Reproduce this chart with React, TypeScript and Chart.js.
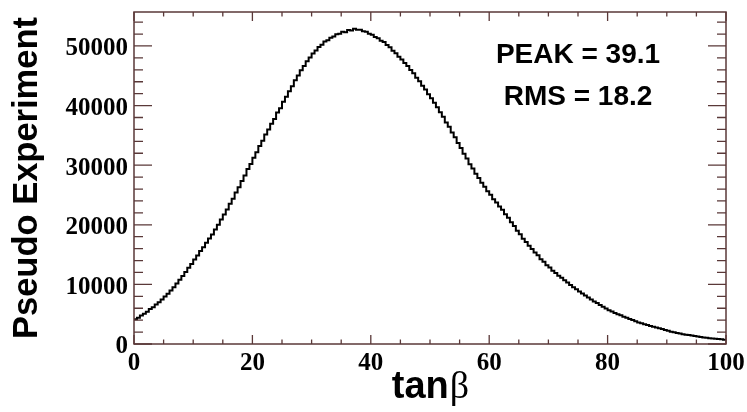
import React, { useEffect, useRef } from 'react';
import { Chart, registerables } from 'chart.js';

Chart.register(...registerables);

// Histogram binning of tanβ (0 … 100 in 0.5 wide bins)
const BIN_LOW = 0;
const BIN_WIDTH = 0.5;

// Pseudo-experiment counts per bin
const counts = [
  4150, 4420, 4780, 5090, 5430, 5880, 6180, 6620, 7010, 7480,
  7960, 8430, 8990, 9520, 10150, 10760, 11420, 12080, 12790, 13420,
  14180, 14830, 15590, 16220, 16980, 17690, 18380, 19230, 20010, 20870,
  21720, 22580, 23520, 24380, 25420, 26290, 27330, 28260, 29340, 30180,
  31240, 32180, 33210, 34090, 35130, 35980, 36940, 37760, 38820, 39570,
  40630, 41480, 42420, 43260, 44250, 45060, 45940, 46650, 47430, 48080,
  48720, 49230, 49840, 50210, 50740, 50960, 51390, 51580, 51960, 52040,
  52380, 52310, 52680, 52590, 52880, 52720, 52710, 52460, 52380, 52060,
  51900, 51490, 51300, 50870, 50660, 50160, 49780, 49200, 48800, 48190,
  47750, 47130, 46640, 45950, 45420, 44680, 44090, 43310, 42700, 41920,
  41240, 40460, 39740, 38860, 38130, 37180, 36440, 35470, 34690, 33720,
  32890, 31920, 31140, 30170, 29430, 28570, 27840, 27060, 26380, 25620,
  25030, 24270, 23740, 23060, 22530, 21760, 21180, 20420, 19780, 19020,
  18430, 17670, 17130, 16470, 15920, 15370, 14870, 14220, 13780, 13220,
  12820, 12280, 11920, 11470, 11120, 10680, 10320, 9880, 9520, 9180,
  8820, 8480, 8120, 7790, 7460, 7140, 6860, 6540, 6260, 5940,
  5660, 5440, 5210, 4990, 4810, 4590, 4410, 4190, 4010, 3800,
  3610, 3490, 3310, 3190, 3010, 2890, 2760, 2640, 2510, 2340,
  2210, 2040, 1960, 1840, 1760, 1640, 1560, 1490, 1410, 1340,
  1260, 1190, 1110, 1040, 980, 930, 880, 820, 780, 720,
];

const X_MIN = 0;
const X_MAX = 100;
const Y_MIN = 0;
const Y_MAX = 55700;

const xTickValues = [0, 20, 40, 60, 80, 100];
const xMinorStep = 5;
const yTickValues = [0, 10000, 20000, 30000, 40000, 50000];
const yMinorStep = 2000;

const yTitle = 'Pseudo Experiment';
const xTitleMain = 'tan';
const xTitleSymbol = 'β';
const statLines = ['PEAK = 39.1', 'RMS = 18.2'];

const FRAME_COLOR = '#5a3838';
const LABEL_FONT = { family: "'Liberation Serif', 'Times New Roman', serif", weight: 'bold' as const, size: 25 };

// Frame with inward ticks on all four sides, ROOT style
const framePlugin = {
  id: 'rootFrame',
  afterDatasetsDraw(chart: any) {
    const { ctx, chartArea } = chart;
    const { left, right, top, bottom } = chartArea;
    const xs = chart.scales.x;
    const ys = chart.scales.y;
    ctx.save();
    ctx.strokeStyle = FRAME_COLOR;
    ctx.lineWidth = 1.5;
    ctx.strokeRect(left, top, right - left, bottom - top);

    ctx.lineWidth = 1.3;
    ctx.beginPath();
    for (let v = X_MIN; v <= X_MAX + 1e-9; v += xMinorStep) {
      const px = xs.getPixelForValue(v);
      const major = xTickValues.includes(v);
      const len = major ? 9 : 4.5;
      ctx.moveTo(px, bottom);
      ctx.lineTo(px, bottom - len);
      ctx.moveTo(px, top);
      ctx.lineTo(px, top + len);
    }
    for (let v = Y_MIN; v <= Y_MAX; v += yMinorStep) {
      const py = ys.getPixelForValue(v);
      const major = yTickValues.includes(v);
      const len = major ? 18 : 9;
      ctx.moveTo(left, py);
      ctx.lineTo(left + len, py);
      ctx.moveTo(right, py);
      ctx.lineTo(right - len, py);
    }
    ctx.stroke();
    ctx.restore();
  },
  afterDraw(chart: any) {
    const { ctx, chartArea } = chart;
    const { left, right, bottom } = chartArea;
    ctx.save();
    ctx.fillStyle = '#000';

    // statistics box text
    ctx.font = "bold 28px 'Liberation Sans', Arial, sans-serif";
    ctx.textAlign = 'center';
    ctx.textBaseline = 'alphabetic';
    const sx = left + (right - left) * 0.75;
    statLines.forEach((line, i) => {
      ctx.fillText(line, sx, 63 + i * 42);
    });

    // x-axis title: bold "tan" followed by a serif beta
    const mainFont = "bold 38px 'Liberation Sans', Arial, sans-serif";
    const symFont = "38px 'Liberation Serif', 'Times New Roman', serif";
    ctx.font = mainFont;
    const wMain = ctx.measureText(xTitleMain).width;
    ctx.font = symFont;
    const wSym = ctx.measureText(xTitleSymbol).width;
    const cx = (left + right) / 2;
    const x0 = cx - (wMain + wSym) / 2;
    const baseY = bottom + 54;
    ctx.textAlign = 'left';
    ctx.font = mainFont;
    ctx.fillText(xTitleMain, x0, baseY);
    ctx.font = symFont;
    ctx.fillText(xTitleSymbol, x0 + wMain + 1, baseY);
    ctx.restore();
  },
};

export default function App() {
  const canvasRef = useRef<HTMLCanvasElement | null>(null);

  useEffect(() => {
    const canvas = canvasRef.current;
    if (!canvas) return;

    const points = counts.map((c, i) => ({ x: BIN_LOW + i * BIN_WIDTH, y: c }));
    points.push({ x: BIN_LOW + counts.length * BIN_WIDTH, y: counts[counts.length - 1] });

    const chart = new Chart(canvas, {
      type: 'line',
      data: {
        datasets: [
          {
            data: points,
            borderColor: '#000',
            borderWidth: 2,
            pointRadius: 0,
            stepped: 'before',
            fill: false,
          },
        ],
      },
      options: {
        animation: false,
        responsive: false,
        devicePixelRatio: 1,
        layout: { padding: { top: 12, right: 21, left: 0, bottom: 0 } },
        plugins: {
          legend: { display: false },
          tooltip: { enabled: false },
        },
        scales: {
          x: {
            type: 'linear',
            min: X_MIN,
            max: X_MAX,
            grid: { display: false, drawTicks: false, tickLength: 0 },
            border: { display: false },
            ticks: {
              color: '#000',
              font: LABEL_FONT,
              padding: 5,
              maxRotation: 0,
              autoSkip: false,
              callback: (v: any) => String(v),
            },
            afterBuildTicks: (s: any) => {
              s.ticks = xTickValues.map((v) => ({ value: v }));
            },
            afterFit: (s: any) => {
              s.height = 68;
              s.paddingLeft = 0;
              s.paddingRight = 0;
            },
          },
          y: {
            type: 'linear',
            min: Y_MIN,
            max: Y_MAX,
            grid: { display: false, drawTicks: false, tickLength: 0 },
            border: { display: false },
            ticks: {
              color: '#000',
              font: LABEL_FONT,
              padding: 6,
              labelOffset: 3,
              autoSkip: false,
              callback: (v: any) => String(v),
            },
            afterBuildTicks: (s: any) => {
              s.ticks = yTickValues.map((v) => ({ value: v }));
            },
            title: {
              display: true,
              text: yTitle,
              color: '#000',
              font: { family: "'Liberation Sans', Arial, sans-serif", weight: 'bold', size: 34.5 },
              padding: { top: 7, bottom: 0 },
            },
            afterFit: (s: any) => {
              s.width = 134;
              s.paddingTop = 0;
              s.paddingBottom = 0;
            },
          },
        },
      },
      plugins: [framePlugin],
    });

    return () => chart.destroy();
  }, []);

  return (
    <div style={{ position: 'fixed', left: 0, top: 0, width: 747, height: 412, background: '#fff' }}>
      <canvas ref={canvasRef} width={747} height={412} />
    </div>
  );
}
